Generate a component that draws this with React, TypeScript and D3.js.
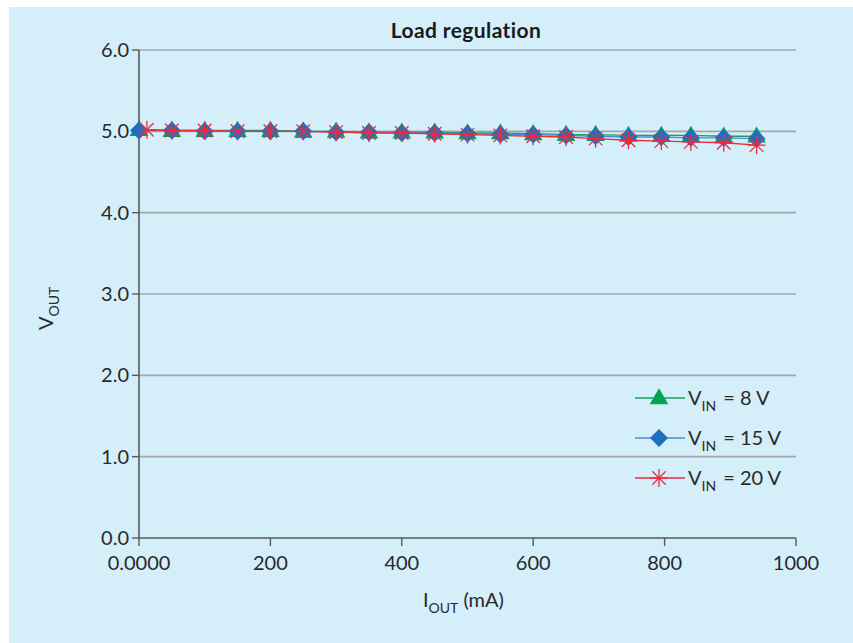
import React from 'react';
import * as d3 from 'd3';

const currentX = [0, 50, 100, 150, 200, 250, 300, 350, 400, 450, 500, 550, 600, 650, 695, 745, 795, 840, 890, 940];
const currentXRed = [12, 50, 100, 150, 200, 250, 300, 350, 400, 450, 500, 550, 600, 650, 695, 745, 795, 840, 890, 940];
const vin8 = [5.02, 5.01, 5.01, 5.01, 5.01, 5.0, 5.0, 4.99, 4.99, 4.99, 4.98, 4.98, 4.97, 4.96, 4.96, 4.95, 4.95, 4.95, 4.94, 4.94];
const vin15 = [5.01, 5.01, 5.0, 5.0, 5.0, 5.0, 4.99, 4.99, 4.98, 4.98, 4.97, 4.96, 4.96, 4.95, 4.94, 4.93, 4.93, 4.92, 4.92, 4.91];
const vin20 = [5.02, 5.01, 5.01, 5.0, 5.0, 5.0, 4.99, 4.98, 4.98, 4.97, 4.96, 4.95, 4.94, 4.93, 4.91, 4.89, 4.88, 4.87, 4.86, 4.83];
const xTicks = [0, 200, 400, 600, 800, 1000];
const yTicks = [0, 1, 2, 3, 4, 5, 6];
const legendLabels = ['8 V', '15 V', '20 V'];

const W = 853;
const H = 643;
const font = 'Lato, "Open Sans", sans-serif';
const textColor = '#2a2a2a';

type Pt = { x: number; y: number };

const App = () => {
  const x = d3.scaleLinear().domain([0, 1000]).range([139, 796]);
  const y = d3.scaleLinear().domain([0, 6]).range([538, 50]);

  const series = [
    { name: legendLabels[0], xs: currentX, ys: vin8, line: '#1aa060', fill: '#00a651', shape: 'tri' },
    { name: legendLabels[1], xs: currentX, ys: vin15, line: '#4a8fd0', fill: '#1e70bf', shape: 'dia' },
    { name: legendLabels[2], xs: currentXRed, ys: vin20, line: '#ee2b3b', fill: '#ee2b3b', shape: 'ast' },
  ];

  const lineGen = d3
    .line<Pt>()
    .x((d) => x(d.x))
    .y((d) => y(d.y));

  const triPath = d3.symbol(d3.symbolTriangle, 150)();
  const diaPath = 'M0,-9L9,0L0,9L-9,0Z';

  const marker = (shape: string, color: string, cx: number, cy: number, key: string) => {
    if (shape === 'tri')
      return <path key={key} d={triPath as string} transform={`translate(${cx},${cy + 1})`} fill={color} />;
    if (shape === 'dia') return <path key={key} d={diaPath} transform={`translate(${cx},${cy})`} fill={color} />;
    const r = 9;
    return (
      <g key={key} transform={`translate(${cx},${cy})`} stroke={color} strokeWidth={1.3}>
        <line x1={-r} y1={0} x2={r} y2={0} />
        <line x1={0} y1={-r} x2={0} y2={r} />
        <line x1={-r * 0.75} y1={-r * 0.75} x2={r * 0.75} y2={r * 0.75} />
        <line x1={-r * 0.75} y1={r * 0.75} x2={r * 0.75} y2={-r * 0.75} />
      </g>
    );
  };

  return (
    <svg width={W} height={H} style={{ position: 'absolute', left: 0, top: 0 }} fontFamily={font}>
      <rect x={0} y={0} width={W} height={H} fill="#fff" />
      <rect x={9} y={7} width={W - 9} height={H - 7} fill="#d4eefa" />

      <text x={466} y={38} textAnchor="middle" fontSize={21} fontWeight="bold" fill="#1a1a1a" letterSpacing={0.4}>
        Load regulation
      </text>

      {/* grid */}
      {yTicks.slice(1).map((t) => (
        <line key={t} x1={x(0)} x2={x(1000)} y1={y(t)} y2={y(t)} stroke="#a3a7aa" strokeWidth={1.6} />
      ))}

      {/* axes */}
      <line x1={x(0)} x2={x(1000)} y1={y(0)} y2={y(0)} stroke="#5a5a5a" strokeWidth={1.6} />
      <line x1={x(0)} x2={x(0)} y1={y(6)} y2={y(0)} stroke="#5a5a5a" strokeWidth={1.6} />
      {yTicks.map((t) => (
        <g key={t}>
          <line x1={x(0) - 7} x2={x(0)} y1={y(t)} y2={y(t)} stroke="#5a5a5a" strokeWidth={1.4} />
          <text x={x(0) - 10} y={y(t) + 7} textAnchor="end" fontSize={20} fill={textColor}>
            {t.toFixed(1)}
          </text>
        </g>
      ))}
      {xTicks.map((t) => (
        <g key={t}>
          <line x1={x(t)} x2={x(t)} y1={y(0)} y2={y(0) + 8} stroke="#5a5a5a" strokeWidth={1.4} />
          <text x={x(t)} y={y(0) + 32} textAnchor="middle" fontSize={20} fill={textColor}>
            {t === 0 ? '0.0000' : t}
          </text>
        </g>
      ))}

      {/* axis titles */}
      <text x={423} y={607} fontSize={20} fill={textColor}>
        I<tspan fontSize={14} dy={6}>OUT</tspan>
        <tspan dy={-6} dx={5}>(mA)</tspan>
      </text>
      <text transform="translate(53,330) rotate(-90)" fontSize={20} fill={textColor}>
        V<tspan fontSize={14} dy={6}>OUT</tspan>
      </text>

      {/* series */}
      {series.map((s, i) => {
        const pts: Pt[] = s.xs.map((v, j) => ({ x: v, y: s.ys[j] }));
        return (
          <g key={i}>
            <path d={lineGen(pts) as string} fill="none" stroke={s.line} strokeWidth={1.4} />
            {pts.map((p, j) => marker(s.shape, s.fill, x(p.x), y(p.y), `${i}-${j}`))}
          </g>
        );
      })}

      {/* legend */}
      {series.map((s, i) => {
        const ly = 398 + i * 40;
        return (
          <g key={`lg${i}`}>
            <line x1={635} x2={685} y1={ly} y2={ly} stroke={s.line} strokeWidth={1.4} />
            {marker(s.shape, s.fill, 659, ly, `lgm${i}`)}
            <text x={688} y={ly + 7} fontSize={20} fill={textColor}>
              V<tspan fontSize={14} dy={6}>IN</tspan>
              <tspan dy={-6} dx={7}>{`= ${s.name}`}</tspan>
            </text>
          </g>
        );
      })}
    </svg>
  );
};

export default App;
